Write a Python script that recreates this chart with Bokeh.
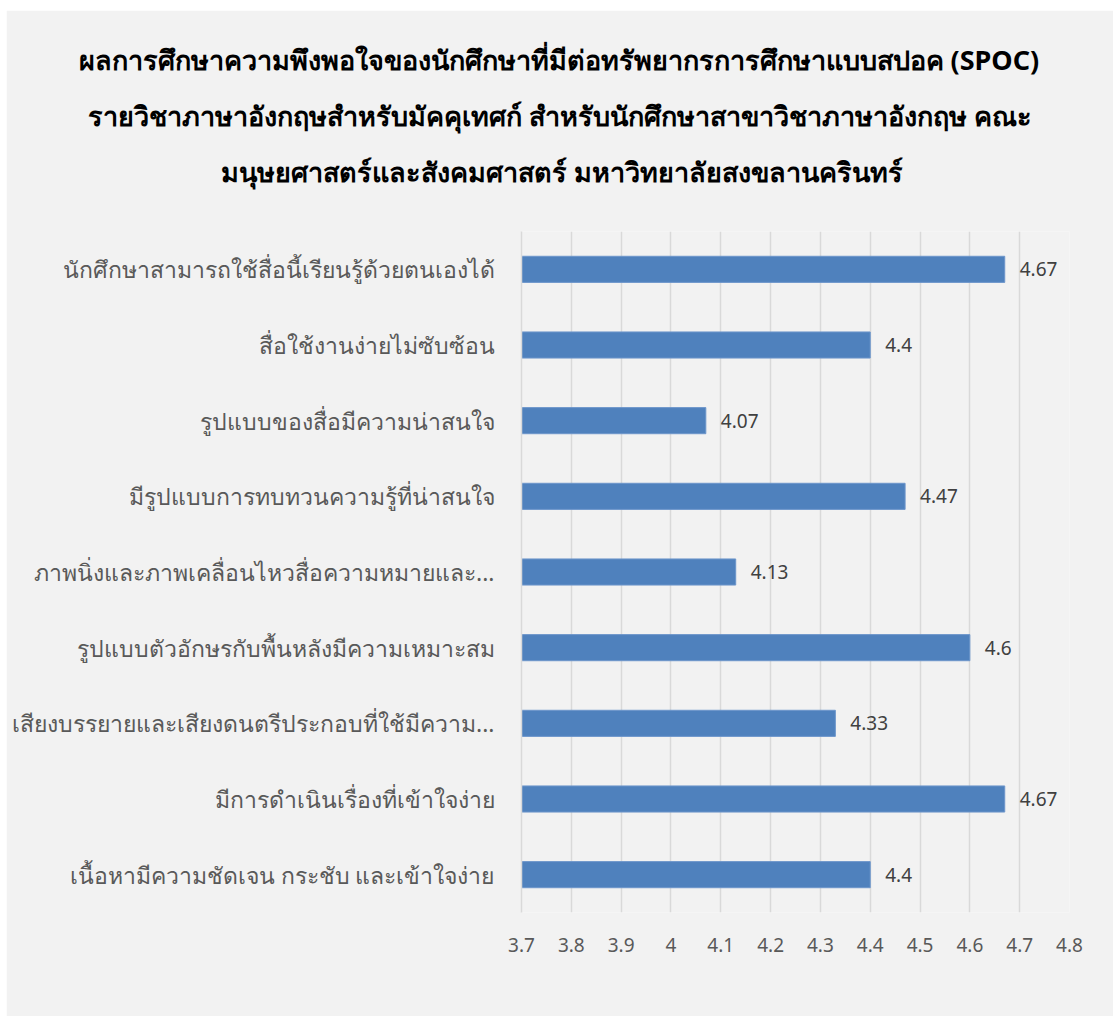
from bokeh.plotting import figure
from bokeh.models import ColumnDataSource, Range1d, FactorRange, FixedTicker, LabelSet, Title
from bokeh.core.properties import value
from bokeh.embed import file_html
from bokeh.resources import INLINE

categories = [
    "นักศึกษาสามารถใช้สื่อนี้เรียนรู้ด้วยตนเองได้",
    "สื่อใช้งานง่ายไม่ซับซ้อน",
    "รูปแบบของสื่อมีความน่าสนใจ",
    "มีรูปแบบการทบทวนความรู้ที่น่าสนใจ",
    "ภาพนิ่งและภาพเคลื่อนไหวสื่อความหมายและ...",
    "รูปแบบตัวอักษรกับพื้นหลังมีความเหมาะสม",
    "เสียงบรรยายและเสียงดนตรีประกอบที่ใช้มีความ...",
    "มีการดำเนินเรื่องที่เข้าใจง่าย",
    "เนื้อหามีความชัดเจน กระชับ และเข้าใจง่าย",
]
values = [4.67, 4.4, 4.07, 4.47, 4.13, 4.6, 4.33, 4.67, 4.4]
value_labels = ["4.67", "4.4", "4.07", "4.47", "4.13", "4.6", "4.33", "4.67", "4.4"]
x_ticks = [3.7, 3.8, 3.9, 4.0, 4.1, 4.2, 4.3, 4.4, 4.5, 4.6, 4.7, 4.8]
x_tick_labels = ["3.7", "3.8", "3.9", "4", "4.1", "4.2", "4.3", "4.4", "4.5", "4.6", "4.7", "4.8"]
axis_min = 3.7
axis_max = 4.8
title_lines = [
    "ผลการศึกษาความพึงพอใจของนักศึกษาที่มีต่อทรัพยากรการศึกษาแบบสปอค (SPOC)",
    "รายวิชาภาษาอังกฤษสำหรับมัคคุเทศก์ สำหรับนักศึกษาสาขาวิชาภาษาอังกฤษ คณะ",
    "มนุษยศาสตร์และสังคมศาสตร์ มหาวิทยาลัยสงขลานครินทร์",
]

FONT = "Noto Sans"
BG = "#f2f2f2"

src = ColumnDataSource(dict(
    cat=categories,
    val=values,
    left=[axis_min] * len(values),
    lab=value_labels,
))

p = figure(
    width=1107, height=1006,
    y_range=FactorRange(factors=list(reversed(categories)), range_padding=0),
    x_range=Range1d(axis_min, axis_max),
    output_backend="svg", toolbar_location=None,
    min_border_left=515, min_border_right=44, min_border_bottom=104, min_border_top=221,
)
p.margin = (10, 0, 0, 6)
p.background_fill_color = BG
p.border_fill_color = BG
p.outline_line_color = None

p.hbar(y="cat", left="left", right="val", height=0.345, source=src,
       fill_color="#4f81bd", line_color="#6d96cb", line_width=1)

labels = LabelSet(x="val", y="cat", text="lab", source=src, x_offset=15,
                  text_baseline="middle", text_align="left",
                  text_font=value(FONT), text_font_size=value("19px"), text_color=value("#404040"))
p.add_layout(labels)

p.xgrid.grid_line_color = "#d9d9d9"
p.xgrid.grid_line_width = 1.5
p.ygrid.grid_line_color = None

p.xaxis.ticker = FixedTicker(ticks=x_ticks)
p.xaxis.major_label_overrides = {t: l for t, l in zip(x_ticks, x_tick_labels)}
p.xaxis.axis_line_color = None
p.xaxis.major_tick_line_color = None
p.xaxis.minor_tick_line_color = None
p.xaxis.major_label_text_font = FONT
p.xaxis.major_label_text_font_size = "19px"
p.xaxis.major_label_text_color = "#595959"
p.xaxis.major_label_standoff = 19

p.yaxis.axis_line_color = "#d9d9d9"
p.yaxis.axis_line_width = 1.5
p.yaxis.major_tick_line_color = None
p.yaxis.minor_tick_line_color = None
p.yaxis.major_label_text_font = FONT
p.yaxis.major_label_text_font_size = "23px"
p.yaxis.major_label_text_color = "#595959"
p.yaxis.major_label_standoff = 21

# spacer between frame and title block
p.add_layout(Title(text=" ", text_font_size="1px", standoff=30), "above")
# title lines (added bottom-up); offsets are from the frame's left edge
offsets = [-443, -434, -301]
for line, off in reversed(list(zip(title_lines, offsets))):
    t = Title(text=line, align="left", offset=off, text_font=FONT, text_font_size="27px",
              text_font_style="bold", text_color="#000000", standoff=17)
    p.add_layout(t, "above")

open("out.html", "w").write(file_html(p, INLINE))
